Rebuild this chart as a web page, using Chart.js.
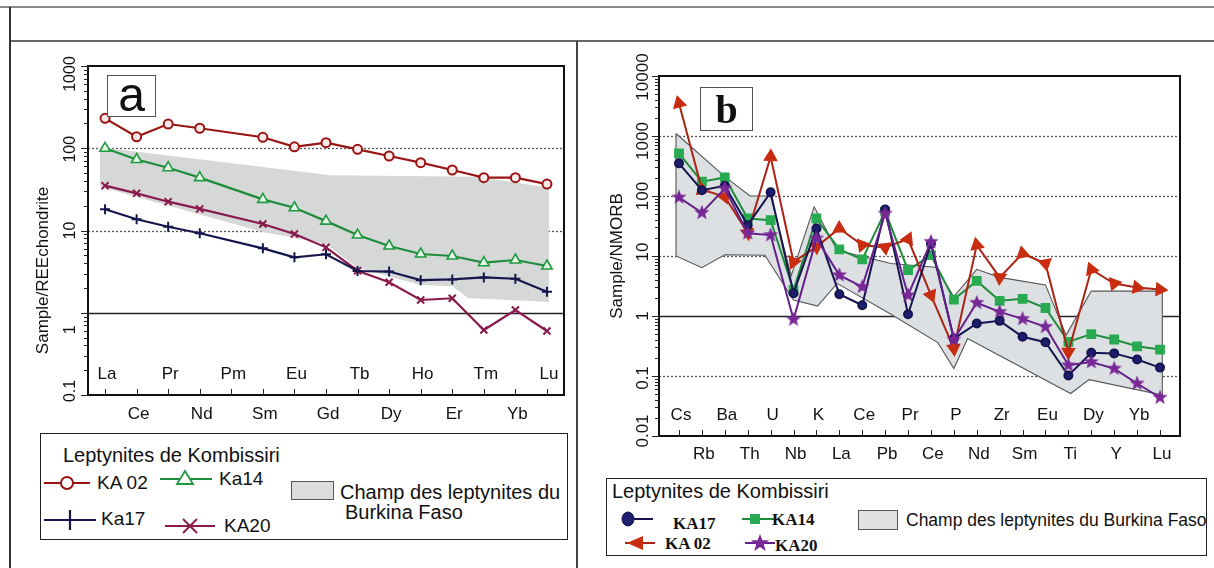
<!DOCTYPE html>
<html lang="fr">
<head>
<meta charset="utf-8">
<title>Leptynites de Kombissiri</title>
<script src="https://cdn.jsdelivr.net/npm/chart.js@4.4.1/dist/chart.umd.min.js"></script>
<style>
  html, body { margin: 0; padding: 0; background: #fff; }
  body { position: relative; width: 1214px; height: 568px; overflow: hidden;
         font-family: "Liberation Sans", Arial, sans-serif; color: #111; }
  .rule { position: absolute; }
  .box { position: absolute; border: 1.5px solid #222; box-sizing: border-box; background: #fff; }
  .txt { position: absolute; white-space: nowrap; line-height: 24px; }
  .serif { font-family: "Liberation Serif", "Times New Roman", serif; font-weight: bold; }
  .tag { position: absolute; border: 1px solid #555; background: #fff; box-sizing: border-box; text-align: center; z-index: 2; }
  svg { position: absolute; overflow: visible; }
  canvas { position: absolute; }
</style>
</head>
<body>

<!-- cadre du tableau -->
<div class="rule" style="left:0;top:6px;width:1214px;height:2px;background:#888"></div>
<div class="rule" style="left:10px;top:40px;width:1204px;height:2px;background:#666"></div>
<div class="rule" style="left:9px;top:7px;width:2px;height:561px;background:#333"></div>
<div class="rule" style="left:576px;top:41px;width:2px;height:527px;background:#444"></div>

<canvas id="chartA" width="567" height="400" style="left:10px;top:41px"></canvas>
<canvas id="chartB" width="635" height="430" style="left:579px;top:41px"></canvas>

<div class="tag" style="left:107px;top:75px;width:49px;height:42px;font-size:48px;line-height:38px">a</div>
<div class="tag serif" style="left:700px;top:87px;width:53px;height:44px;font-size:40px;line-height:44px">b</div>

<!-- legende a -->
<div class="box" style="left:40px;top:433px;width:528px;height:107px"></div>
<div class="txt" style="left:63px;top:443px;font-size:20px">Leptynites de Kombissiri</div>
<svg style="left:44px;top:473px" width="46" height="20">
  <line x1="0" y1="10" x2="46" y2="10" stroke="#9a1414" stroke-width="2"/>
  <circle cx="23" cy="10" r="6" fill="#fff" stroke="#9a1414" stroke-width="2"/>
</svg>
<div class="txt" style="left:97px;top:471px;font-size:19px">KA 02</div>
<svg style="left:160px;top:469px" width="52" height="20">
  <line x1="0" y1="10" x2="52" y2="10" stroke="#1e8c3c" stroke-width="2"/>
  <polygon points="25,2 17,15 33,15" fill="#fff" stroke="#1e9a40" stroke-width="1.8"/>
</svg>
<div class="txt" style="left:219px;top:467px;font-size:19px">Ka14</div>
<div class="rule" style="left:291px;top:481px;width:43px;height:19px;background:#dcdcdc;border:1px solid #555;box-sizing:border-box"></div>
<div class="txt" style="left:340px;top:480px;font-size:20px">Champ des leptynites du</div>
<div class="txt" style="left:345px;top:500px;font-size:20px">Burkina Faso</div>
<svg style="left:44px;top:509px" width="52" height="22">
  <line x1="0" y1="11" x2="52" y2="11" stroke="#16164e" stroke-width="2"/>
  <line x1="26" y1="1" x2="26" y2="21" stroke="#16164e" stroke-width="2.2"/>
</svg>
<div class="txt" style="left:101px;top:507px;font-size:19px">Ka17</div>
<svg style="left:165px;top:516px" width="50" height="20">
  <line x1="0" y1="10" x2="50" y2="10" stroke="#8a1a4c" stroke-width="2"/>
  <line x1="18" y1="3" x2="32" y2="17" stroke="#8a1a4c" stroke-width="2"/>
  <line x1="18" y1="17" x2="32" y2="3" stroke="#8a1a4c" stroke-width="2"/>
</svg>
<div class="txt" style="left:224px;top:514px;font-size:19px">KA20</div>

<!-- legende b -->
<div class="box" style="left:606px;top:478px;width:601px;height:78px"></div>
<div class="txt" style="left:612px;top:479px;font-size:20px">Leptynites de Kombissiri</div>
<svg style="left:617px;top:509px" width="36" height="20">
  <line x1="8" y1="10" x2="36" y2="10" stroke="#141450" stroke-width="2"/>
  <ellipse cx="11" cy="10" rx="6" ry="7" fill="#1e1e6e" stroke="#141450" stroke-width="1"/>
</svg>
<div class="txt serif" style="left:673px;top:512px;font-size:17px">KA17</div>
<svg style="left:742px;top:509px" width="32" height="20">
  <line x1="0" y1="10" x2="32" y2="10" stroke="#1e8c3c" stroke-width="2"/>
  <rect x="8" y="5" width="10" height="10" fill="#28aa50"/>
</svg>
<div class="txt serif" style="left:772px;top:508px;font-size:17px">KA14</div>
<div class="rule" style="left:858px;top:510px;width:40px;height:20px;background:#dfe1e3;border:1px solid #555;box-sizing:border-box"></div>
<div class="txt" style="left:906px;top:508px;font-size:17.5px">Champ des leptynites du Burkina Faso</div>
<svg style="left:617px;top:533px" width="38" height="20">
  <line x1="8" y1="10" x2="38" y2="10" stroke="#aa2314" stroke-width="2"/>
  <polygon points="10,10 26,3 26,17" fill="#c82d0f"/>
</svg>
<div class="txt serif" style="left:665px;top:532px;font-size:17px">KA 02</div>
<svg style="left:745px;top:532px" width="30" height="22">
  <line x1="0" y1="11" x2="30" y2="11" stroke="#64208a" stroke-width="2"/>
  <polygon points="15,2 17.4,8.3 24,8.3 18.8,12.4 20.7,19 15,15 9.3,19 11.2,12.4 6,8.3 12.6,8.3" fill="#782896"/>
</svg>
<div class="txt serif" style="left:775px;top:534px;font-size:17px">KA20</div>

<script>
// ---- a : spectres de terres rares normalises aux chondrites ----
const reeElements = ['La', 'Ce', 'Pr', 'Nd', 'Pm', 'Sm', 'Eu', 'Gd', 'Tb', 'Dy', 'Ho', 'Er', 'Tm', 'Yb', 'Lu'];
const ka02Ree = [231, 138, 197, 175, null, 136, 104, 117, 97, 80.5, 66.8, 54.4, 43.9, 43.9, 36.7];
const ka14Ree = [99.8, 73, 58, 43.9, null, 23.9, 18.9, 13.0, 8.8, 6.48, 5.18, 4.9, 4.06, 4.38, 3.7];
const ka17Ree = [18.1, 13.7, 11.1, 9.25, null, 6.07, 4.72, 5.14, 3.22, 3.17, 2.49, 2.54, 2.69, 2.59, 1.8];
const ka20Ree = [35.1, 28.3, 22.4, 18.3, null, 12.0, 9.06, 6.24, 3.24, 2.35, 1.43, 1.5, 0.617, 1.08, 0.6];
// champ des leptynites du Burkina (x = rang de l'element)
const fieldReeTop = [[-0.16, 103], [6.18, 52], [7.13, 47], [11.78, 45], [14.06, 33]];
const fieldReeBottom = [[-0.16, 34], [5, 9.6], [7, 6.85], [8, 3.5], [10, 2.17], [11, 2.1], [11.5, 1.51], [14.06, 1.35]];
const reeTicks = [0.1, 1, 10, 100, 1000];
const reeTickLabels = ['0.1', '1', '10', '100', '1000'];

// ---- b : spectres multi-elements normalises au N-MORB ----
const spiderElements = ['Cs', 'Rb', 'Ba', 'Th', 'U', 'Nb', 'K', 'La', 'Ce', 'Pb', 'Pr',
                        'Ce', 'P', 'Nd', 'Zr', 'Sm', 'Eu', 'Ti', 'Dy', 'Y', 'Yb', 'Lu'];
const ka17Spider = [350, 125, 148, 32.7, 115, 2.4, 28.8, 2.31, 1.51, 59.7, 1.07,
                    16, 0.42, 0.75, 0.83, 0.45, 0.366, 0.102, 0.243, 0.238, 0.188, 0.138];
const ka14Spider = [513, 173, 204, 42.3, 39.6, 2.7, 42.3, 12.9, 8.75, 55, 5.8,
                    10.3, 1.88, 3.85, 1.79, 1.93, 1.36, 0.37, 0.5, 0.406, 0.313, 0.276];
const ka02Spider = [3500, 129, 97, 24.3, 451, 8.0, 14.2, 28.8, 15.2, 13.9, 19.1,
                    2.22, 0.287, 15.2, 4.39, 11.0, 7.5, 0.25, 5.96, 3.48, 2.99, 2.77];
const ka20Spider = [94.8, 52.5, 134, 24, 22.3, 0.875, 19.6, 4.8, 3.06, 51, 2.22,
                    17.2, 0.405, 1.66, 1.17, 0.895, 0.66, 0.151, 0.171, 0.133, 0.075, 0.0438];
const fieldSpiderTop = [[-0.13, 1100], [2, 210], [3.1, 100], [4, 100], [4.9, 4.7], [5.9, 66], [6.9, 12.5],
                        [9.26, 7.5], [11.2, 6.5], [12, 2.1], [13, 6.0], [14, 4.4], [16, 3.3],
                        [16.9, 0.48], [18, 2.6], [21.1, 2.6]];
const fieldSpiderBottom = [[-0.13, 10], [1, 6.4], [2, 10.5], [3.75, 10.3], [5, 1.84], [6.05, 1.46],
                           [6.9, 3.5], [9.2, 1.1], [11.3, 0.36], [12, 0.133], [12.6, 0.42],
                           [17.1, 0.051], [17.9, 0.087], [21.1, 0.048]];
const spiderTicks = [0.01, 0.1, 1, 10, 100, 1000, 10000];
const spiderTickLabels = ['0.01', '0.1', '1', '10', '100', '1000', '10000'];

const FONT = '"Liberation Sans", Arial, sans-serif';

function pts(values) {
    return values.map((v, i) => ({x: i, y: v}));
}

function polygon(top, bottom) {
    const ring = top.concat(bottom.slice().reverse(), [top[0]]);
    return ring.map(([x, y]) => ({x, y}));
}

function hline(ctx, a, py) {
    ctx.beginPath();
    ctx.moveTo(a.left, py);
    ctx.lineTo(a.right, py);
    ctx.stroke();
}

function rotText(ctx, txt, x, y) {
    ctx.save();
    ctx.translate(x, y);
    ctx.rotate(-Math.PI / 2);
    ctx.textAlign = 'center';
    ctx.textBaseline = 'middle';
    ctx.fillText(txt, 0, 0);
    ctx.restore();
}

// axes dessines a la main : etiquettes verticales et noms d'elements sur deux rangs
function axisDecor(o) {
    return {
        id: 'axisDecor',
        beforeDraw(chart) {
            const {ctx, chartArea: a} = chart;
            const y = chart.scales.y;
            ctx.save();
            ctx.lineWidth = 1.3;
            ctx.strokeStyle = '#555';
            ctx.setLineDash([2, 2]);
            o.dotted.forEach(v => hline(ctx, a, Math.round(y.getPixelForValue(v)) + 0.5));
            ctx.setLineDash([]);
            ctx.lineWidth = 1.6;
            ctx.strokeStyle = '#222';
            o.solid.forEach(v => hline(ctx, a, Math.round(y.getPixelForValue(v)) + 0.5));
            ctx.restore();
        },
        afterDraw(chart) {
            const {ctx, chartArea: a} = chart;
            const {x, y} = chart.scales;
            ctx.save();
            ctx.strokeStyle = '#111';
            ctx.lineWidth = 2;
            ctx.strokeRect(a.left, a.top, a.right - a.left, a.bottom - a.top);

            // graduations log
            ctx.lineWidth = 1;
            ctx.strokeStyle = '#222';
            ctx.beginPath();
            const lo = Math.round(Math.log10(y.min)), hi = Math.round(Math.log10(y.max));
            for (let d = lo; d <= hi; d++) {
                for (let k = 1; k <= 9; k++) {
                    const v = k * Math.pow(10, d);
                    if (v > y.max * 1.0001) break;
                    const py = Math.round(y.getPixelForValue(v)) + 0.5;
                    const len = k === 1 ? 7 : 4;
                    ctx.moveTo(a.left - len, py);
                    ctx.lineTo(a.left, py);
                }
            }
            ctx.stroke();

            ctx.fillStyle = '#111';
            ctx.font = o.tickFont;
            o.ticks.forEach((v, i) => {
                rotText(ctx, o.tickLabels[i], a.left + o.tickDX, y.getPixelForValue(v) + (o.tickShift[i] || 0));
            });

            // elements
            ctx.beginPath();
            o.labels.forEach((lab, i) => {
                const px = Math.round(x.getPixelForValue(i)) + 0.5;
                ctx.moveTo(px, a.bottom);
                ctx.lineTo(px, a.bottom - 6);
            });
            ctx.stroke();
            ctx.font = o.labelFont;
            ctx.textAlign = 'center';
            ctx.textBaseline = 'middle';
            o.labels.forEach((lab, i) => {
                const py = a.bottom + (i % 2 === 0 ? o.topRowDY : o.bottomRowDY);
                ctx.fillText(lab, x.getPixelForValue(i) + 2, py);
            });

            ctx.font = o.titleFont;
            rotText(ctx, o.title, a.left + o.titleDX, (a.top + a.bottom) / 2 + o.titleDY);
            ctx.restore();
        }
    };
}

// etoile pleine pour KA20
function starImage(r, fill) {
    const c = document.createElement('canvas');
    c.width = c.height = 2 * r + 2;
    const g = c.getContext('2d');
    g.beginPath();
    for (let k = 0; k < 10; k++) {
        const rad = k % 2 ? r * 0.42 : r;
        const ang = -Math.PI / 2 + k * Math.PI / 5;
        g.lineTo(r + 1 + rad * Math.cos(ang), r + 1 + rad * Math.sin(ang));
    }
    g.closePath();
    g.fillStyle = fill;
    g.fill();
    return c;
}

// pointes de fleche orientees vers l'exterieur du trace
function arrowRotation(ctx) {
    if (ctx.type !== 'data') return 0;
    const d = ctx.dataset.data;
    const xs = ctx.chart.scales.x, ys = ctx.chart.scales.y;
    const p = j => ({x: xs.getPixelForValue(d[j].x), y: ys.getPixelForValue(d[j].y)});
    const i = ctx.dataIndex, n = d.length;
    const a = p(i);
    let dx, dy;
    if (i === 0 || i === n - 1) {
        const b = p(i === 0 ? 1 : n - 2);
        dx = a.x - b.x; dy = a.y - b.y;
    } else {
        const b = p(i - 1), c = p(i + 1);
        const lb = Math.hypot(b.x - a.x, b.y - a.y), lc = Math.hypot(c.x - a.x, c.y - a.y);
        dx = -((b.x - a.x) / lb + (c.x - a.x) / lc);
        dy = -((b.y - a.y) / lb + (c.y - a.y) / lc);
        if (Math.hypot(dx, dy) < 0.3) { dx = a.x - b.x; dy = a.y - b.y; }
    }
    return Math.atan2(dy, dx) * 180 / Math.PI + 90;
}

function baseOptions(padding, xMin, xMax, yMin, yMax) {
    return {
        responsive: false,
        animation: false,
        layout: {padding},
        elements: {line: {tension: 0}},
        scales: {
            x: {type: 'linear', display: false, min: xMin, max: xMax},
            y: {type: 'logarithmic', display: false, min: yMin, max: yMax}
        },
        plugins: {legend: {display: false}, tooltip: {enabled: false}}
    };
}

// ---- graphique a ----
new Chart(document.getElementById('chartA'), {
    type: 'line',
    data: {
        datasets: [
            {label: 'KA 02', data: pts(ka02Ree), borderColor: '#9a1414', borderWidth: 2.2, spanGaps: true,
             pointStyle: 'circle', pointRadius: 4.5, pointBorderWidth: 2, pointBackgroundColor: '#fbeaea',
             pointBorderColor: '#9a1414'},
            {label: 'Ka14', data: pts(ka14Ree), borderColor: '#1e8c3c', borderWidth: 2.2, spanGaps: true,
             pointStyle: 'triangle', pointRadius: 6, pointBorderWidth: 1.6, pointBackgroundColor: '#e8f6ea',
             pointBorderColor: '#1e9a40'},
            {label: 'Ka17', data: pts(ka17Ree), borderColor: '#16164e', borderWidth: 2.2, spanGaps: true,
             pointStyle: 'cross', pointRadius: 5, pointBorderWidth: 2, pointBorderColor: '#16164e'},
            {label: 'KA20', data: pts(ka20Ree), borderColor: '#8a1a4c', borderWidth: 2.2, spanGaps: true,
             pointStyle: 'crossRot', pointRadius: 5, pointBorderWidth: 2, pointBorderColor: '#8a1a4c'},
            {label: 'Champ des leptynites du Burkina Faso', data: polygon(fieldReeTop, fieldReeBottom),
             fill: 'shape', backgroundColor: 'rgb(213,216,214)', borderWidth: 0, borderColor: 'rgba(0,0,0,0)',
             pointRadius: 0, order: 5}
        ]
    },
    options: baseOptions({left: 78, top: 25, right: 13, bottom: 46},
                         -0.54, reeElements.length - 1 + 0.54, 0.1, 1000),
    plugins: [axisDecor({
        dotted: [10, 100], solid: [1],
        ticks: reeTicks, tickLabels: reeTickLabels, tickShift: [-4, 17, 0, 1, 8], tickDX: -17,
        tickFont: '16px ' + FONT,
        labels: reeElements, labelFont: '17px ' + FONT, topRowDY: -21, bottomRowDY: 19,
        title: 'Sample/REEchondrite', titleFont: '17px ' + FONT, titleDX: -45, titleDY: 40
    })]
});

// ---- graphique b ----
new Chart(document.getElementById('chartB'), {
    type: 'line',
    data: {
        datasets: [
            {label: 'KA20', data: pts(ka20Spider), borderColor: '#64208a', borderWidth: 2,
             pointStyle: starImage(8, '#782896')},
            {label: 'KA17', data: pts(ka17Spider), borderColor: '#141450', borderWidth: 2,
             pointStyle: 'circle', pointRadius: 4, pointBackgroundColor: '#1e1e6e', pointBorderColor: '#141450'},
            {label: 'KA 02', data: pts(ka02Spider), borderColor: '#aa2314', borderWidth: 2,
             pointStyle: 'triangle', pointRadius: 6.5, pointBackgroundColor: '#c82d0f', pointBorderColor: '#c82d0f',
             pointRotation: arrowRotation},
            {label: 'KA14', data: pts(ka14Spider), borderColor: '#1e8c3c', borderWidth: 2,
             pointStyle: 'rect', pointRadius: 5.5, pointBackgroundColor: '#28aa50', pointBorderColor: '#28aa50'},
            {label: 'Champ des leptynites du Burkina Faso', data: polygon(fieldSpiderTop, fieldSpiderBottom),
             fill: 'shape', backgroundColor: 'rgb(221,224,227)', borderWidth: 1.1, borderColor: '#555',
             pointRadius: 0, order: 5}
        ]
    },
    options: baseOptions({left: 80, top: 35, right: 34, bottom: 35},
                         -0.873, spiderElements.length - 1 + 0.873, 0.01, 10000),
    plugins: [axisDecor({
        dotted: [0.1, 10, 100, 1000], solid: [1],
        ticks: spiderTicks, tickLabels: spiderTickLabels, tickShift: [-5, 2, 0, -4, 0, 5, 1], tickDX: -16,
        tickFont: '17px ' + FONT,
        labels: spiderElements, labelFont: '17px ' + FONT, topRowDY: -21, bottomRowDY: 18,
        title: 'Sample/NMORB', titleFont: '17px ' + FONT, titleDX: -42, titleDY: 0
    })]
});
</script>
</body>
</html>
